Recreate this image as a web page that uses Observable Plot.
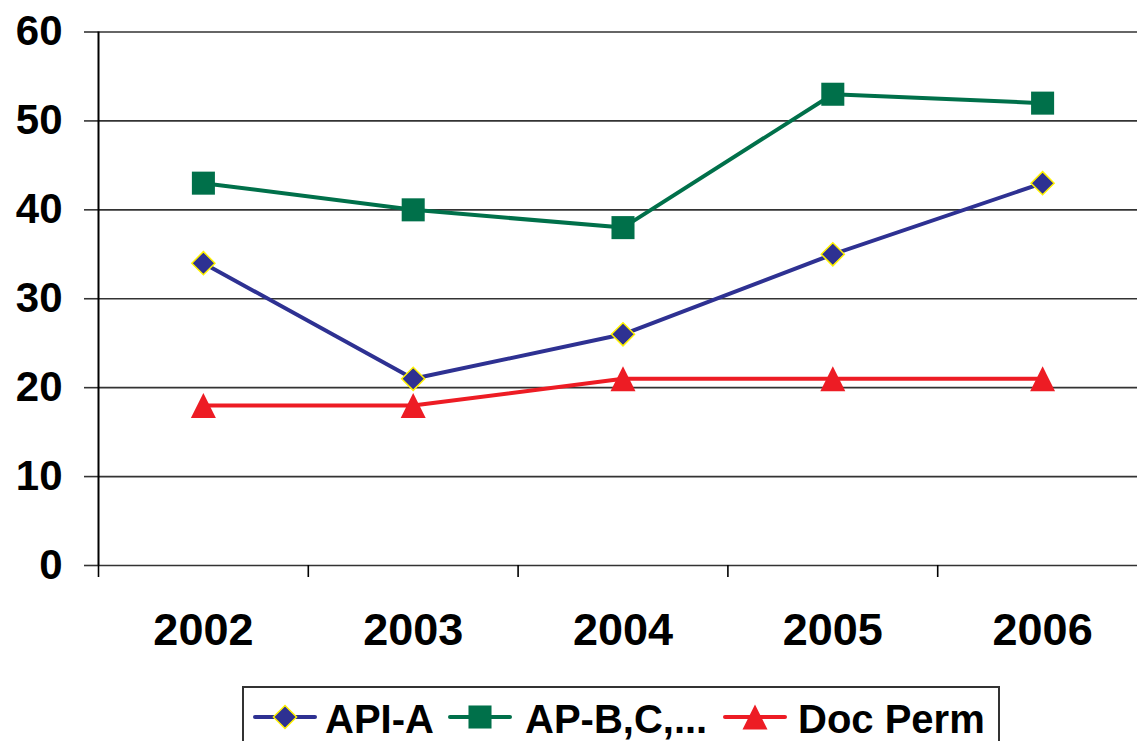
<!DOCTYPE html>
<html><head><meta charset="utf-8">
<script src="https://cdn.jsdelivr.net/npm/d3@7"></script>
<script src="https://cdn.jsdelivr.net/npm/@observablehq/plot@0.6"></script>
<style>
html,body{margin:0;padding:0;background:#fff;}
body{width:1137px;height:741px;overflow:hidden;position:relative;font-family:"Liberation Sans",Arial,Helvetica,sans-serif;}
#chart svg{display:block;overflow:visible;}
#legend{position:absolute;left:242px;top:686px;width:758px;height:80px;box-sizing:border-box;border:2px solid #333;background:#fff;}
#legend .sym{position:absolute;top:14px;}
#legend .lab{position:absolute;top:11px;font-size:40px;line-height:40px;font-weight:bold;color:#000;white-space:nowrap;}
</style></head>
<body>
<div id="chart"></div>
<div id="legend"></div>
<script>
// ---- data ----
const years = [2002, 2003, 2004, 2005, 2006];
const seriesNames = ["API-A", "AP-B,C,...", "Doc Perm"];
const apiA = [34, 21, 26, 35, 43];
const apB = [43, 40, 38, 53, 52];
const docPerm = [18, 18, 21, 21, 21];
const yTicks = [0, 10, 20, 30, 40, 50, 60];
const colors = ["#2E3192", "#00704A", "#ED1C24"];

const seriesValues = [apiA, apB, docPerm];
const rows = seriesNames.flatMap((name, s) => years.map((year, i) => ({series: name, year, value: seriesValues[s][i]})));
const edges = years.map(y => y - 0.5);

// isosceles triangle, base == height, centered on its bounding box
const triangle = {
  draw(ctx, size) {
    const h = Math.sqrt(size);
    ctx.moveTo(0, -h / 2);
    ctx.lineTo(h / 2, h / 2);
    ctx.lineTo(-h / 2, h / 2);
    ctx.closePath();
  }
};
const markers = [
  {symbol: "diamond2", r: 10.4, fill: colors[0], stroke: "#FFF200", strokeWidth: 1.5},
  {symbol: "square", r: 13, fill: colors[1], stroke: "none", strokeWidth: 0},
  {symbol: triangle, r: 14.1, fill: colors[2], stroke: "none", strokeWidth: 0}
];

const H = 680;
const plot = Plot.plot({
  width: 1137,
  height: H,
  marginLeft: 98,
  marginRight: 0,
  marginTop: 31.5,
  marginBottom: H - 565,
  style: {fontFamily: '"Liberation Sans", Arial, Helvetica, sans-serif', color: "#000", background: "#fff", overflow: "visible"},
  x: {type: "linear", domain: [years[0] - 0.5, years[years.length - 1] + 0.5], range: [98, 1147]},
  y: {domain: [0, 60]},
  color: {domain: seriesNames, range: colors},
  marks: [
    Plot.ruleY(yTicks, {stroke: "#333", strokeWidth: 1.6}),
    Plot.axisY({ticks: yTicks, tickSize: 14, tickPadding: 22, fontSize: 42, fontWeight: "bold", label: null, stroke: "#333", strokeWidth: 1.6, strokeOpacity: 1}),
    Plot.ruleX([edges[0]], {stroke: "#000", strokeWidth: 2}),
    Plot.axisX({ticks: edges, tickSize: 12, tickFormat: () => "", label: null, stroke: "#000", strokeWidth: 1.6, strokeOpacity: 1}),
    Plot.axisX({ticks: years, tickSize: 0, tickPadding: 48, fontSize: 45, fontWeight: "bold", label: null, tickFormat: d => String(d)}),
    ...seriesNames.map((name, s) => Plot.line(rows.filter(d => d.series === name), {x: "year", y: "value", stroke: colors[s], strokeWidth: 4})),
    ...seriesNames.map((name, s) => Plot.dot(rows.filter(d => d.series === name), {
      x: "year", y: "value", symbol: markers[s].symbol, r: markers[s].r,
      fill: markers[s].fill, stroke: markers[s].stroke, strokeWidth: markers[s].strokeWidth, fillOpacity: 1
    }))
  ]
});
document.getElementById("chart").appendChild(plot);

// ---- legend ----
const legend = d3.select("#legend");
const symLeft = [9, 204, 479];
const labLeft = [81, 281, 554];
const symTable = {diamond2: d3.symbolDiamond2, square: d3.symbolSquare};
seriesNames.forEach((name, s) => {
  const m = markers[s];
  const svg = legend.append("svg").attr("class", "sym").attr("width", 64).attr("height", 30)
    .style("left", symLeft[s] + "px").style("overflow", "visible");
  svg.append("line").attr("x1", 2).attr("x2", 62).attr("y1", 15).attr("y2", 15)
    .attr("stroke", colors[s]).attr("stroke-width", 4).attr("stroke-linecap", "round");
  const sym = typeof m.symbol === "string" ? symTable[m.symbol] : m.symbol;
  svg.append("path").attr("transform", "translate(32,15)")
    .attr("d", d3.symbol(sym, m.r * m.r * Math.PI)())
    .attr("fill", m.fill).attr("stroke", m.stroke).attr("stroke-width", m.strokeWidth);
  legend.append("div").attr("class", "lab").style("left", labLeft[s] + "px").text(name);
});
</script>
</body></html>
